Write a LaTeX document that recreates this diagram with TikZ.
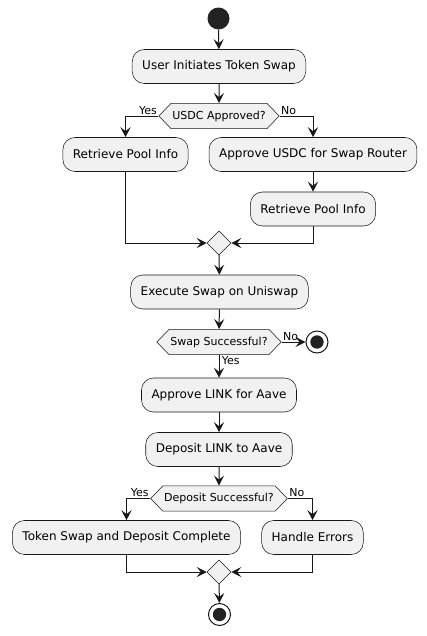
\documentclass[tikz,border=0pt]{standalone}
\usepackage{fontspec}
\setmainfont{DejaVu Sans}
\usetikzlibrary{shapes.geometric,shapes.symbols,arrows.meta}
\definecolor{umlfill}{HTML}{F1F1F1}
\definecolor{umlline}{HTML}{181818}
\definecolor{umldot}{HTML}{222222}
\tikzset{
  actbox/.style={
    draw=umlline, fill=umlfill, line width=0.4pt,
    rounded corners=9pt, inner xsep=7.5pt, inner ysep=0pt,
    minimum height=25.5pt, font=\fontsize{9}{11}\selectfont,
  },
  decide/.style={
    signal, signal to=east and west, signal pointer angle=92,
    draw=umlline, fill=umlfill, line width=0.4pt,
    inner xsep=1pt, inner ysep=0pt, minimum height=19pt,
    font=\fontsize{8.25}{10}\selectfont,
  },
  merge/.style={
    diamond, draw=umlline, fill=umlfill, line width=0.4pt,
    inner sep=0pt, minimum width=18pt, minimum height=18pt,
  },
  startdot/.style={circle, fill=umldot, inner sep=0pt, minimum size=16.5pt},
  stopring/.style={circle, draw=umlline, fill=white, line width=0.75pt, inner sep=0pt, minimum size=16.5pt},
  branchlbl/.style={font=\fontsize{8.25}{10}\selectfont, inner sep=1pt},
  flow/.style={draw=umlline, line width=0.75pt, -{Stealth[length=7.5pt, width=7.5pt, inset=3pt]}},
}

\begin{document}
\begin{tikzpicture}[x=0.75pt, y=-0.75pt]
  \useasboundingbox (0,0) rectangle (427,636);

  \node[startdot] (start) at (218.5,18.5) {};
  \node[actbox] (initiate) at (219,66.5) {User Initiates Token Swap};
  \node[decide] (approved) at (219,116) {USDC Approved?};
  \node[actbox] (poolyes) at (125.5,154.5) {Retrieve Pool Info};
  \node[actbox] (approveusdc) at (313,154.5) {Approve USDC for Swap Router};
  \node[actbox] (poolno) at (313,209) {Retrieve Pool Info};
  \node[merge] (mergeone) at (219,243) {};
  \node[actbox] (execute) at (219.5,292) {Execute Swap on Uniswap};
  \node[decide] (swapok) at (219,342) {Swap Successful?};
  \node[stopring] (swapstop) at (317,342) {};
  \fill[umldot] (swapstop.center) circle (5pt);
  \node[actbox] (approvelink) at (219,395) {Approve LINK for Aave};
  \node[actbox] (deposit) at (219,449.5) {Deposit LINK to Aave};
  \node[decide] (depositok) at (219,498.5) {Deposit Successful?};
  \node[actbox] (complete) at (126.5,537.5) {Token Swap and Deposit Complete};
  \node[actbox] (errors) at (312.5,537.5) {Handle Errors};
  \node[merge] (mergetwo) at (219,572) {};
  \node[stopring] (finish) at (219.5,614.5) {};
  \fill[umldot] (finish.center) circle (5pt);

  \node[branchlbl, anchor=south east] at (approved.west) {Yes};
  \node[branchlbl, anchor=south west] at (approved.east) {No};
  \node[branchlbl, anchor=south west] at (swapok.east) {No};
  \node[branchlbl, anchor=north west, xshift=1pt] at (swapok.south) {Yes};
  \node[branchlbl, anchor=south east] at (depositok.west) {Yes};
  \node[branchlbl, anchor=south west] at (depositok.east) {No};

  \draw[flow] (start) -- (initiate);
  \draw[flow] (initiate) -- (approved);
  \draw[flow] (approved.west) -| (poolyes.north);
  \draw[flow] (approved.east) -| (approveusdc.north);
  \draw[flow] (approveusdc) -- (poolno);
  \draw[flow] (poolyes.south) |- (mergeone.west);
  \draw[flow] (poolno.south) |- (mergeone.east);
  \draw[flow] (mergeone) -- (execute);
  \draw[flow] (execute) -- (swapok);
  \draw[flow] (swapok.east) -- (swapstop);
  \draw[flow] (swapok.south) -- (approvelink.north);
  \draw[flow] (approvelink) -- (deposit);
  \draw[flow] (deposit) -- (depositok);
  \draw[flow] (depositok.west) -| (complete.north);
  \draw[flow] (depositok.east) -| (errors.north);
  \draw[flow] (complete.south) |- (mergetwo.west);
  \draw[flow] (errors.south) |- (mergetwo.east);
  \draw[flow] (mergetwo) -- (finish);
\end{tikzpicture}
\end{document}
